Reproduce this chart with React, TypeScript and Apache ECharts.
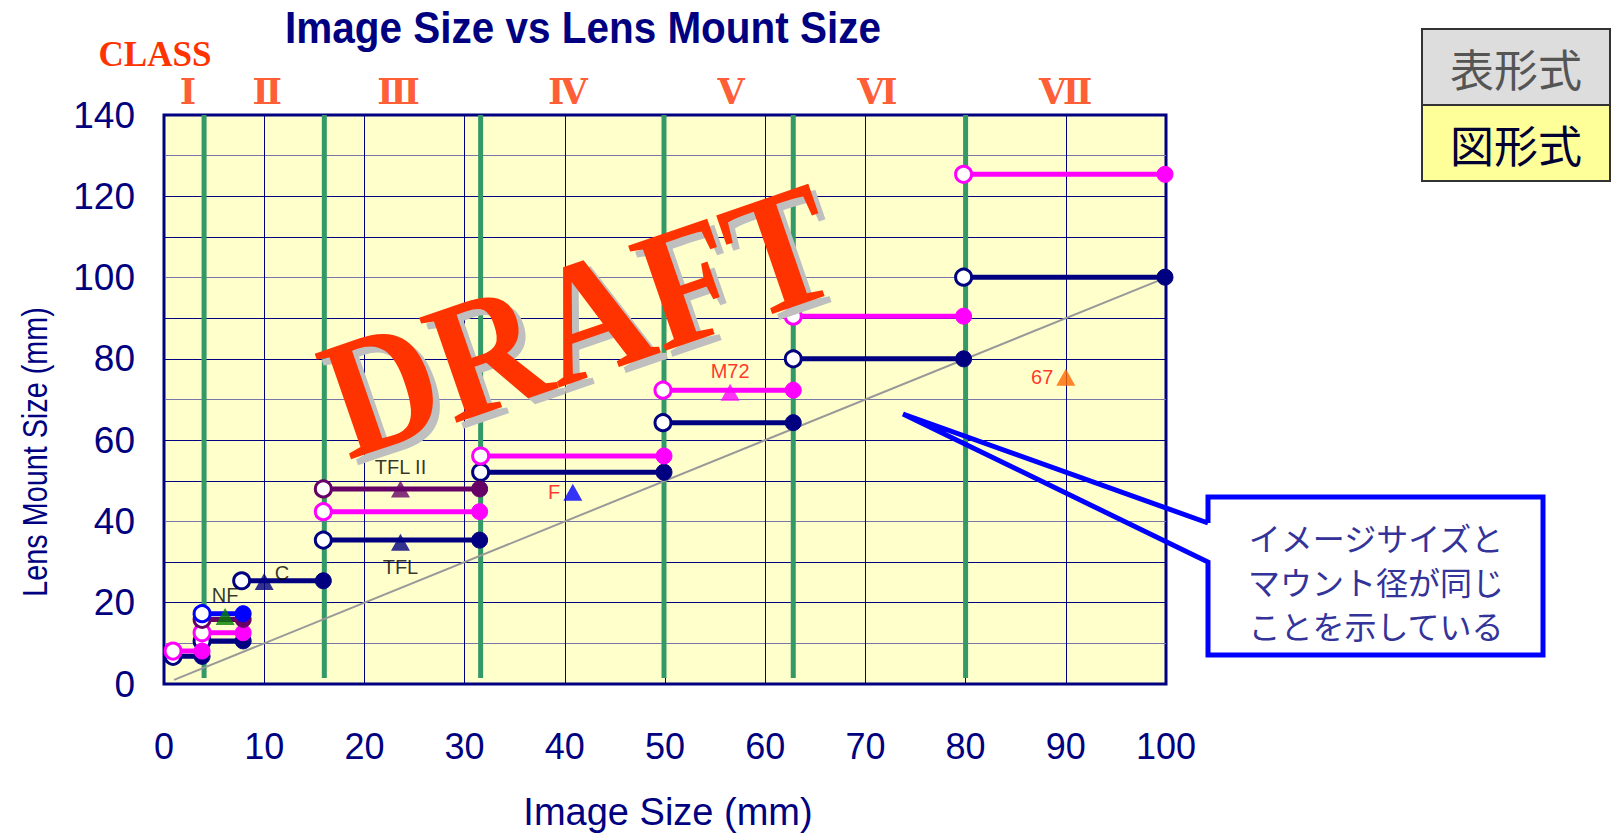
import React, { useEffect, useRef } from "react";
import * as echarts from "echarts";

const SANS = "'Liberation Sans', Arial, sans-serif";
const SERIF = "'Liberation Serif', 'Times New Roman', serif";
const CJK = "'Noto Sans CJK JP', sans-serif";

const chartTitle = "Image Size vs Lens Mount Size";
const xName = "Image Size (mm)";
const yName = "Lens Mount Size (mm)";
const yTickLabels = [0, 20, 40, 60, 80, 100, 120, 140];

const classNames = ["Ⅰ", "Ⅱ", "Ⅲ", "Ⅳ", "Ⅴ", "Ⅵ", "Ⅶ"];
const classCenters = [2.4, 10.3, 23.4, 40.3, 56.6, 71.2, 90];
const classBoundaries = [4, 16, 31.6, 49.9, 62.8, 80];

// [start, end, mount size]
const navySegments = [
  [0.9, 3.8, 6.8],
  [3.8, 7.9, 10.6],
  [7.75, 15.9, 25.4],
  [15.9, 31.5, 35.4],
  [31.6, 49.9, 52.1],
  [49.8, 62.8, 64.3],
  [62.8, 79.8, 80],
  [79.8, 99.9, 100.1],
];
const magentaSegments = [
  [0.9, 3.8, 8.1],
  [3.8, 7.9, 12.6],
  [15.9, 31.5, 42.4],
  [31.6, 49.9, 56.1],
  [49.8, 62.8, 72.3],
  [62.8, 79.8, 90.5],
  [79.8, 99.9, 125.4],
];
const purpleSegments = [
  [3.8, 7.9, 15.9],
  [15.9, 31.5, 48.0],
];
const blueSegments = [[3.8, 7.9, 17.3]];

const mountNames = ["NF", "C", "TFL", "TFL II", "F", "M72", "67"];
const mountX = [6.1, 10.0, 23.6, 23.6, 40.8, 56.5, 90];
const mountY = [16.6, 25.2, 34.9, 48.0, 47.2, 71.8, 75.5];
const mountColors = ["#008000", "#000080", "#000080", "#660066", "#0000FF", "#FF00FF", "#FF6600"];
const mountLabelColors = ["#000000", "#000000", "#000000", "#000000", "#FF0000", "#FF0000", "#FF0000"];
const mountLabelPos = ["top", "right", "bottom", "top", "left", "top", "left"];

const diagonal = [
  [1, 1],
  [100, 100],
];

const calloutLines = ["イメージサイズと", "マウント径が同じ", "ことを示している"];
const formatLabels = ["表形式", "図形式"];

function segmentSeries(segs: number[][], color: string, width: number) {
  return segs.map((s) => ({
    type: "line",
    silent: true,
    symbol: "circle",
    symbolSize: 16,
    showSymbol: true,
    lineStyle: { color, width },
    itemStyle: { color },
    emphasis: { disabled: true },
    data: [
      { value: [s[0], s[2]], itemStyle: { color: "#FFFFFF", borderColor: color, borderWidth: 3 } },
      { value: [s[1], s[2]], itemStyle: { color, borderColor: color, borderWidth: 1 } },
    ],
    z: 3,
  }));
}

export default function App() {
  const ref = useRef<HTMLDivElement>(null);
  useEffect(() => {
    if (!ref.current) return;
    const chart = echarts.init(ref.current, null, { renderer: "svg" });

    const greenSeries = classBoundaries.map((x) => ({
      type: "line",
      silent: true,
      symbol: "none",
      lineStyle: { color: "#339966", width: 5 },
      data: [
        [x, 1.5],
        [x, 140],
      ],
      z: 2,
    }));

    const option: any = {
      animation: false,
      grid: {
        left: 164,
        top: 115,
        right: 446,
        bottom: 149,
        show: true,
        backgroundColor: "#FFFFCC",
        borderColor: "#000080",
        borderWidth: 3,
      },
      xAxis: {
        type: "value",
        min: 0,
        max: 100,
        interval: 10,
        axisLine: { show: false },
        axisTick: { show: false },
        axisLabel: { color: "#000080", fontSize: 36, fontFamily: SANS, margin: 44 },
        splitLine: { show: true, lineStyle: { color: "#000080", width: 1 } },
      },
      yAxis: {
        type: "value",
        min: 0,
        max: 140,
        interval: 10,
        axisLine: { show: false },
        axisTick: { show: false },
        axisLabel: {
          color: "#000080",
          fontSize: 37,
          fontFamily: SANS,
          margin: 29,
          formatter: (v: number) => (yTickLabels.includes(v) ? String(v) : ""),
        },
        splitLine: { show: true, lineStyle: { color: ["#000080", "#7878a8", "#000080"], width: 1 } },
      },
      series: [
        ...greenSeries,
        {
          type: "line",
          silent: true,
          symbol: "none",
          lineStyle: { color: "#999999", width: 2 },
          data: diagonal,
          z: 2,
        },
        ...segmentSeries(navySegments, "#000080", 5),
        ...segmentSeries(magentaSegments, "#FF00FF", 5),
        ...segmentSeries(purpleSegments, "#660066", 5),
        ...segmentSeries(blueSegments, "#0000FF", 5),
        {
          type: "scatter",
          silent: true,
          symbol: "triangle",
          symbolSize: [19, 17],
          z: 5,
          data: mountX.map((x, i) => ({
            value: [x, mountY[i]],
            itemStyle: { color: mountColors[i] },
            label: {
              show: true,
              position: mountLabelPos[i],
              distance: mountLabelPos[i] === "bottom" ? 6 : 3,
              offset: mountLabelPos[i] === "right" ? [-2, -9] : [0, 0],
              color: mountLabelColors[i],
              fontSize: 20,
              fontFamily: SANS,
              formatter: mountNames[i],
            },
          })),
        },
        {
          type: "scatter",
          silent: true,
          symbol: "circle",
          symbolSize: 2,
          itemStyle: { color: "rgba(0,0,0,0)" },
          clip: false,
          z: 5,
          data: classCenters.map((x, i) => ({
            value: [x, 140],
            label: {
              show: true,
              position: "top",
              distance: 8,
              color: "#FF3300",
              fontSize: 35,
              lineHeight: 30,
              fontWeight: "bold",
              fontFamily: "'DejaVu Serif', 'Liberation Serif', serif",
              formatter: classNames[i],
            },
          })),
        },
      ],
      graphic: [
        {
          type: "text",
          x: 583,
          y: 28,
          scaleX: 0.92,
          style: {
            text: chartTitle,
            font: `bold 44px ${SANS}`,
            fill: "#000080",
            align: "center",
            verticalAlign: "middle",
          },
          z: 100,
        },
        {
          type: "text",
          x: 155,
          y: 54,
          style: {
            text: "CLASS",
            font: `bold 35px ${SERIF}`,
            lineHeight: 30,
            fill: "#FF3300",
            align: "center",
            verticalAlign: "middle",
          },
          z: 100,
        },
        {
          type: "text",
          x: 668,
          y: 812,
          style: {
            text: xName,
            font: `38px ${SANS}`,
            fill: "#000080",
            align: "center",
            verticalAlign: "middle",
          },
          z: 100,
        },
        {
          type: "text",
          x: 34,
          y: 452,
          rotation: Math.PI / 2,
          scaleX: 0.8,
          style: {
            text: yName,
            font: `36px ${SANS}`,
            fill: "#000080",
            align: "center",
            verticalAlign: "middle",
          },
          z: 100,
        },
        // DRAFT watermark: shadow then text
        {
          type: "text",
          x: 586,
          y: 326,
          rotation: (19 * Math.PI) / 180,
          scaleX: 0.9,
          style: {
            text: "DRAFT",
            font: `bold 170px ${SERIF}`,
            fill: "#BFBFBF",
            align: "center",
            verticalAlign: "middle",
          },
          z: 200,
        },
        {
          type: "text",
          x: 579,
          y: 320,
          rotation: (19 * Math.PI) / 180,
          scaleX: 0.9,
          style: {
            text: "DRAFT",
            font: `bold 170px ${SERIF}`,
            fill: "#FF3300",
            align: "center",
            verticalAlign: "middle",
          },
          z: 201,
        },
        // callout
        {
          type: "rect",
          shape: { x: 1208, y: 497, width: 335, height: 158 },
          style: { fill: "#FFFFFF" },
          z: 150,
        },
        {
          type: "polyline",
          shape: {
            points: [
              [1208, 523],
              [1208, 497],
              [1543, 497],
              [1543, 655],
              [1208, 655],
              [1208, 562],
              [903, 414],
              [1208, 523],
            ],
          },
          style: { stroke: "#0000FF", lineWidth: 5, fill: null, lineJoin: "miter" },
          z: 151,
        },
        ...calloutLines.map((t, i) => ({
          type: "text",
          x: 1376,
          y: 537 + i * 44,
          style: {
            text: t,
            font: `32px ${CJK}`,
            fill: "#333399",
            align: "center",
            verticalAlign: "middle",
          },
          z: 152,
        })),
        // format boxes
        {
          type: "rect",
          shape: { x: 1422, y: 29, width: 188, height: 76 },
          style: { fill: "#DDDDDD", stroke: "#333333", lineWidth: 2 },
          z: 150,
        },
        {
          type: "rect",
          shape: { x: 1422, y: 105, width: 188, height: 76 },
          style: { fill: "#FFFF99", stroke: "#333333", lineWidth: 2 },
          z: 150,
        },
        ...formatLabels.map((t, i) => ({
          type: "text",
          x: 1516,
          y: 68 + i * 76,
          style: {
            text: t,
            font: `44px ${CJK}`,
            fill: i === 0 ? "#555555" : "#000033",
            align: "center",
            verticalAlign: "middle",
          },
          z: 152,
        })),
      ],
    };
    chart.setOption(option);
    return () => chart.dispose();
  }, []);
  return (
    <div
      ref={ref}
      style={{ position: "fixed", left: 0, top: 0, width: 1612, height: 833, background: "#FFFFFF" }}
    />
  );
}
